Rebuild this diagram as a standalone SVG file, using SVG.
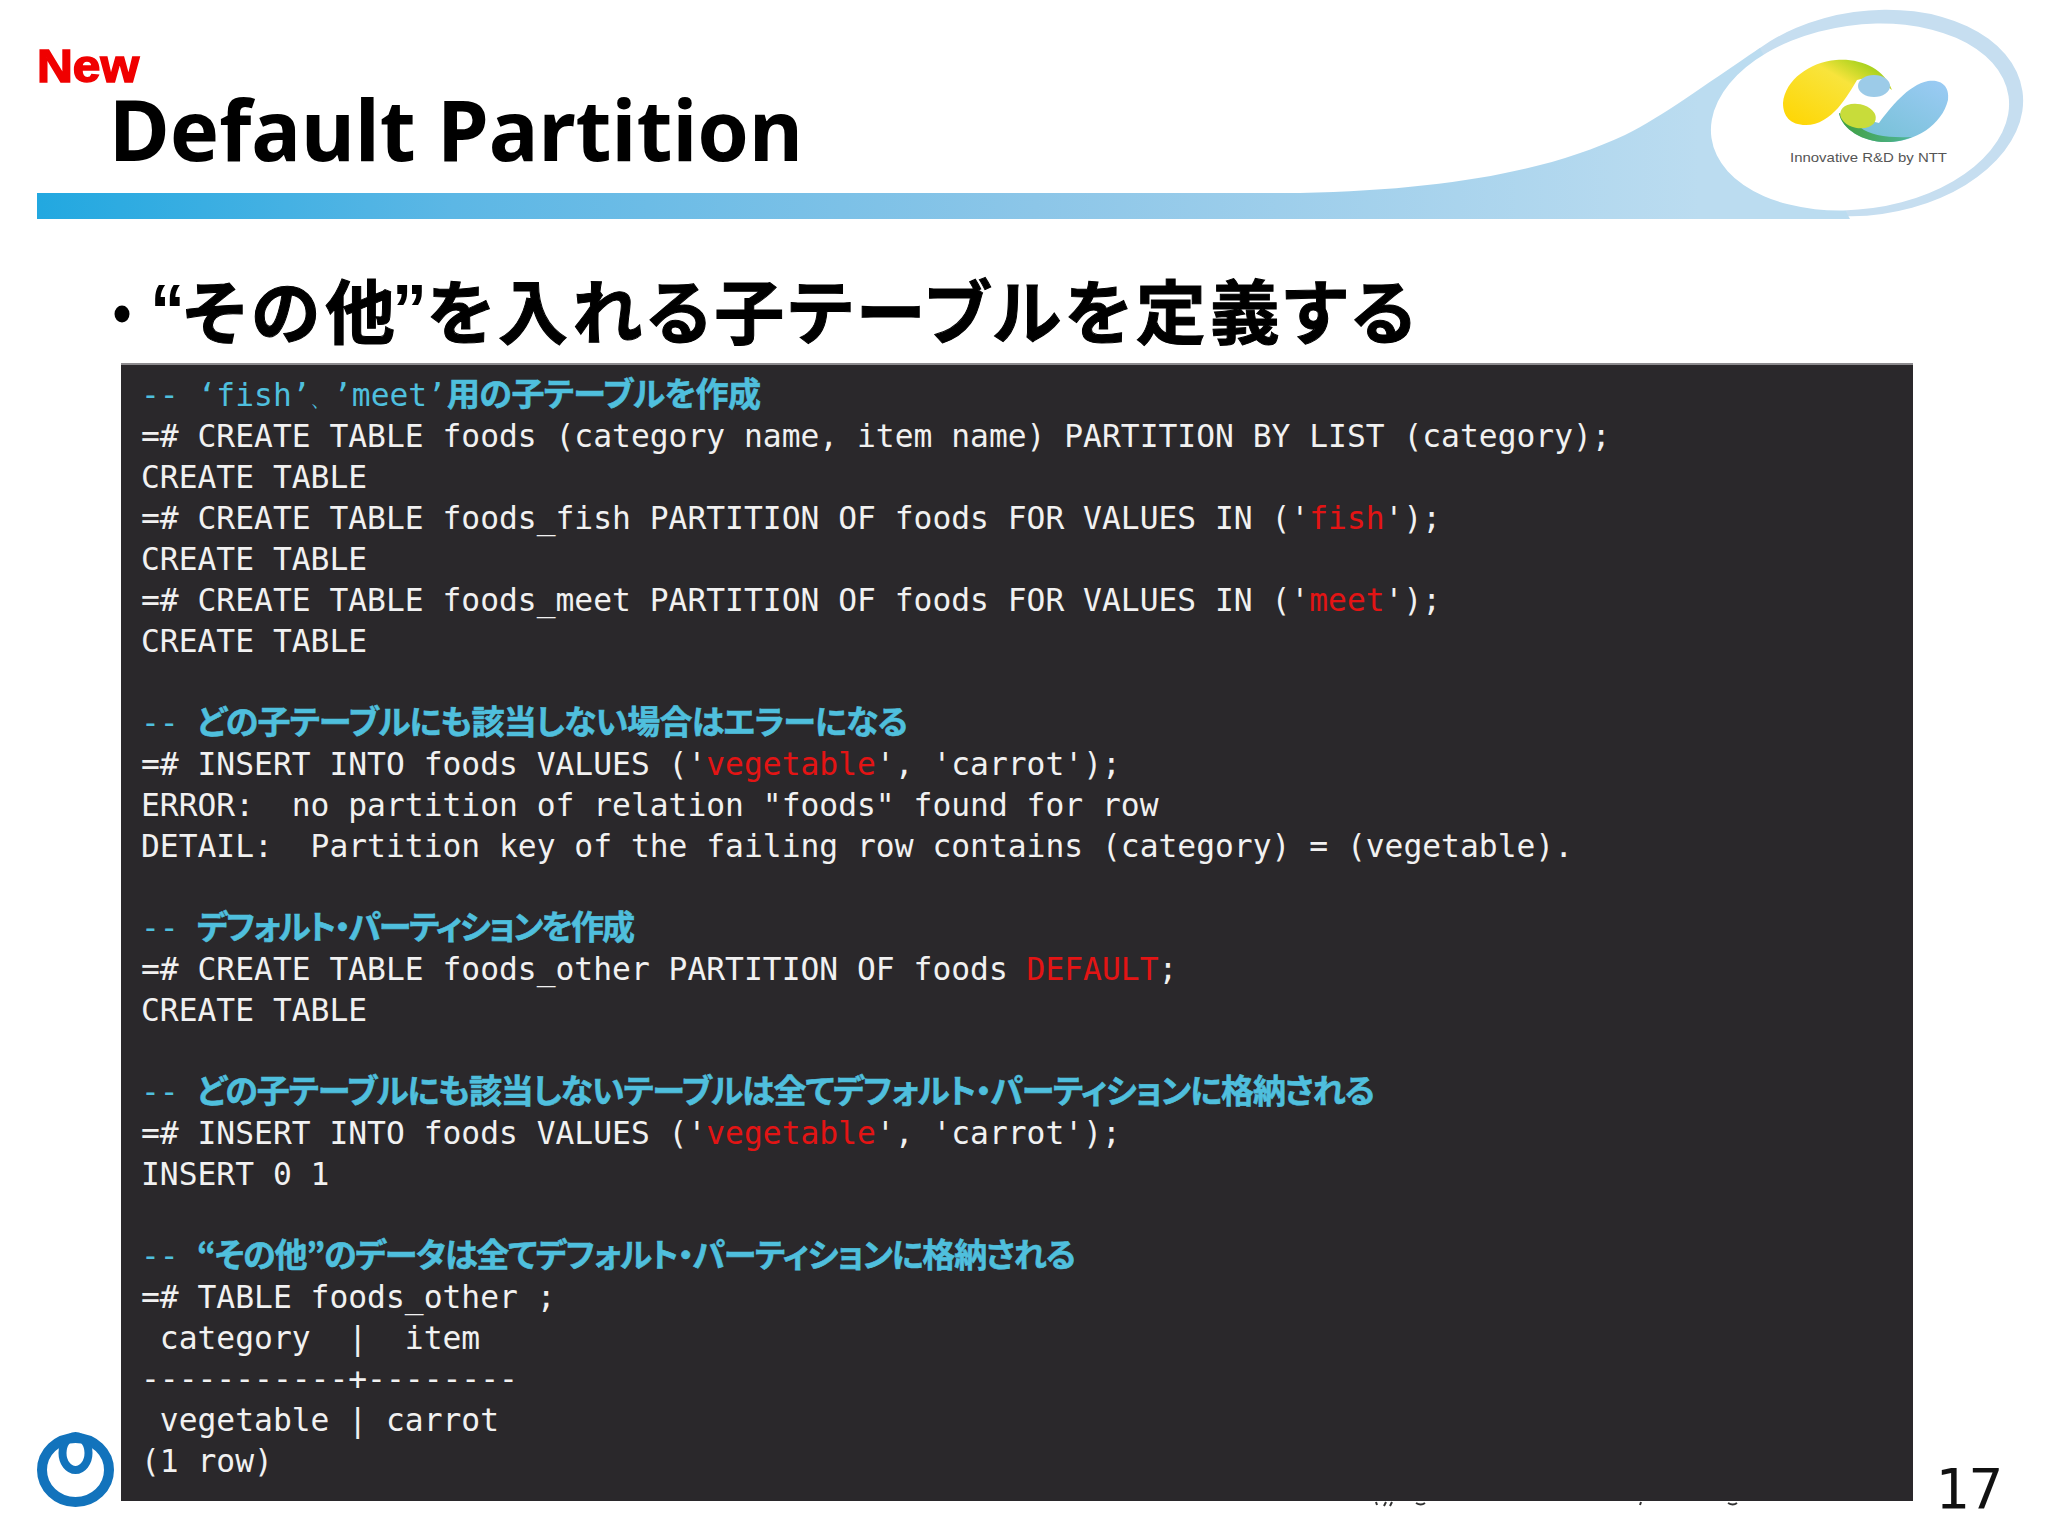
<svg xmlns="http://www.w3.org/2000/svg" width="2048" height="1536" viewBox="0 0 2048 1536">
<style>
.c{font-family:"DejaVu Sans Mono","Liberation Mono",monospace;font-size:31.3px;fill:#f1f1f1;white-space:pre}
.m{fill:#4fbfdd}
.r{fill:#e31414}
.j{font-family:"Noto Sans CJK JP","Noto Sans",sans-serif;font-size:33px;font-weight:700;fill:#4fbfdd;stroke:#4fbfdd;stroke-width:.6;font-feature-settings:"palt"}
.b{font-family:"Noto Sans CJK JP",sans-serif;font-size:70px;font-weight:700;fill:#000000;stroke:#000000;stroke-width:1;font-feature-settings:"palt"}
.q{font-family:"Liberation Sans",sans-serif;font-size:70px;font-weight:700;fill:#000000}
</style>
<defs>
<linearGradient id="bar" gradientUnits="userSpaceOnUse" x1="37" y1="0" x2="1700" y2="0">
<stop offset="0" stop-color="#22a8e0"/><stop offset=".25" stop-color="#5cb7e5"/><stop offset=".6" stop-color="#8cc6e8"/><stop offset="1" stop-color="#bbdcf0"/>
</linearGradient>
<linearGradient id="yel" x1="0" y1="1" x2="1" y2="0"><stop offset="0" stop-color="#ffd500"/><stop offset=".62" stop-color="#f8e43c"/><stop offset=".85" stop-color="#a9d21e"/></linearGradient>
<linearGradient id="blu" x1="0" y1="1" x2="1" y2="0"><stop offset="0" stop-color="#6fbfd0"/><stop offset="1" stop-color="#9ccbf5"/></linearGradient>
<linearGradient id="grn" x1="0" y1="0" x2="1" y2="0"><stop offset="0" stop-color="#3f9f3a"/><stop offset="1" stop-color="#4fb59a"/></linearGradient>
</defs>
<rect width="2048" height="1536" fill="#ffffff"/>
<g id="header">
<ellipse cx="1868" cy="113" rx="156" ry="102" fill="#c6def0" transform="rotate(-8 1868 113)"/>
<path d="M37,193 H1300 C1450,190 1550,170 1625,135 C1665,115 1700,88 1760,48 L1850,219 H37 Z" fill="url(#bar)"/>
<ellipse cx="1860" cy="117" rx="150" ry="92" fill="#ffffff" transform="rotate(-8 1860 117)"/>
<g id="ntt-logo">
<path d="M1783,103 C1785,80 1810,62 1836,60 C1860,58 1884,68 1892,90 C1880,80 1868,76 1857,80 C1848,95 1832,125 1806,125 C1790,125 1783,116 1783,103 Z" fill="url(#yel)"/>
<ellipse cx="1874" cy="86" rx="16" ry="11" fill="#9ccbe8"/>
<path d="M1839,113 C1842,130 1865,143 1888,142 C1915,142 1942,125 1948,100 C1950,85 1940,79 1928,81 C1908,85 1890,108 1879,123 Z" fill="url(#blu)"/>
<path d="M1839,113 C1842,130 1865,143 1888,142 C1895,142 1905,140 1912,137 C1890,138 1870,136 1860,127 Z" fill="url(#grn)"/>
<ellipse cx="1858" cy="116" rx="18" ry="12" fill="#c8dc3a" transform="rotate(12 1858 116)"/>
<text x="1790" y="162" font-family="Liberation Sans, sans-serif" font-size="13.5" fill="#555555" textLength="157" lengthAdjust="spacingAndGlyphs">Innovative R&amp;D by NTT</text>
</g>
</g>
<g id="title">
<text x="37" y="82" font-family="Liberation Sans, sans-serif" font-size="47" font-weight="700" fill="#f00000" stroke="#f00000" stroke-width="1.6" textLength="102" lengthAdjust="spacingAndGlyphs">New</text>
<text x="109" y="161" font-family="Noto Sans, sans-serif" font-size="84" font-weight="700" fill="#000000" textLength="694" lengthAdjust="spacingAndGlyphs">Default Partition</text>
</g>
<g id="bullet">
<ellipse cx="122" cy="314" rx="7.500" ry="8.500" fill="#000000"/>
<text class="q" x="150" y="334">“</text>
<text class="b" x="183" y="339" textLength="212">その他</text>
<text class="q" x="392" y="334">”</text>
<text class="b" x="427" y="339" textLength="988">を入れる子テーブルを定義する</text>
</g>
<rect id="panel" x="121" y="363" width="1792" height="1138" fill="#2a282b"/>
<rect x="121" y="363" width="1792" height="2" fill="#8d8b8e"/>
<g id="console">
<text class="c m" x="141" y="406">-- ‘fish’</text><text class="c m" x="310" y="406" style="font-size:22px">、</text><text class="c m" x="333" y="406">’meet’</text><text class="j" x="447" y="406" textLength="314">用の子テーブルを作成</text>
<text class="c" x="141" y="447">=# CREATE TABLE foods (category name, item name) PARTITION BY LIST (category);</text>
<text class="c" x="141" y="488">CREATE TABLE</text>
<text class="c" x="141" y="529">=# CREATE TABLE foods_fish PARTITION OF foods FOR VALUES IN ('<tspan class="r">fish</tspan>');</text>
<text class="c" x="141" y="570">CREATE TABLE</text>
<text class="c" x="141" y="611">=# CREATE TABLE foods_meet PARTITION OF foods FOR VALUES IN ('<tspan class="r">meet</tspan>');</text>
<text class="c" x="141" y="652">CREATE TABLE</text>
<text class="c m" x="141" y="734">--</text><text class="j" x="197" y="734" textLength="711">どの子テーブルにも該当しない場合はエラーになる</text>
<text class="c" x="141" y="775">=# INSERT INTO foods VALUES ('<tspan class="r">vegetable</tspan>', 'carrot');</text>
<text class="c" x="141" y="816">ERROR:  no partition of relation "foods" found for row</text>
<text class="c" x="141" y="857">DETAIL:  Partition key of the failing row contains (category) = (vegetable).</text>
<text class="c m" x="141" y="939">--</text><text class="j" x="197" y="939" textLength="438">デフォルト・パーティションを作成</text>
<text class="c" x="141" y="980">=# CREATE TABLE foods_other PARTITION OF foods <tspan class="r">DEFAULT</tspan>;</text>
<text class="c" x="141" y="1021">CREATE TABLE</text>
<text class="c m" x="141" y="1103">--</text><text class="j" x="197" y="1103" textLength="1178">どの子テーブルにも該当しないテーブルは全てデフォルト・パーティションに格納される</text>
<text class="c" x="141" y="1144">=# INSERT INTO foods VALUES ('<tspan class="r">vegetable</tspan>', 'carrot');</text>
<text class="c" x="141" y="1185">INSERT 0 1</text>
<text class="c m" x="141" y="1267">--</text><text class="j" x="197" y="1267" textLength="879">“その他”のデータは全てデフォルト・パーティションに格納される</text>
<text class="c" x="141" y="1308">=# TABLE foods_other ;</text>
<text class="c" x="141" y="1349"> category  |  item</text>
<text class="c" x="141" y="1390">-----------+--------</text>
<text class="c" x="141" y="1431"> vegetable | carrot</text>
<text class="c" x="141" y="1472">(1 row)</text>
</g>
<g id="footer">
<path d="M1376,1502 l1,3 M1386,1502 l-2,4 M1392,1502 l-2,4 M1416,1503 q5,3 9,0 M1641,1502 l-1,3 M1728,1503 q5,3 9,0" stroke="#333333" stroke-width="2" fill="none"/>
<g id="corner-logo" fill="none" stroke="#1273bc">
<ellipse cx="75.500" cy="1470" rx="33.500" ry="32" stroke-width="10"/>
<ellipse cx="75.500" cy="1453" rx="13" ry="17" stroke-width="8"/>
</g>
<text x="1935" y="1508" font-family="DejaVu Sans Mono, monospace" font-size="56" fill="#111111" textLength="68" lengthAdjust="spacingAndGlyphs">17</text>
</g>
</svg>
